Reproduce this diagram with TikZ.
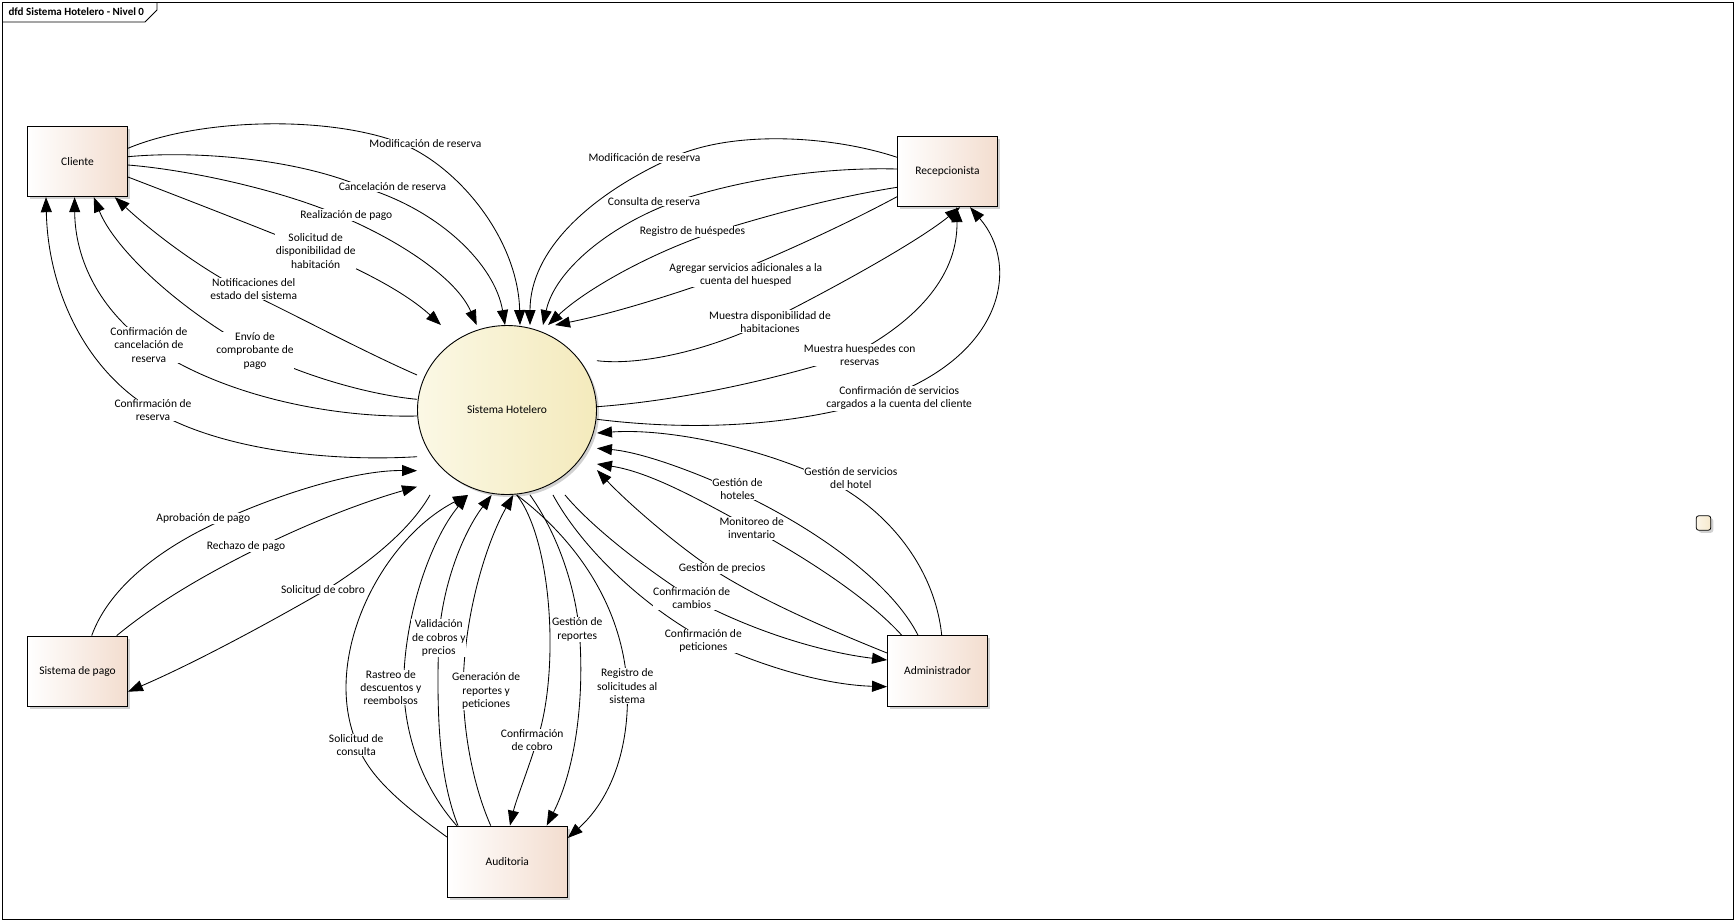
\documentclass[tikz,border=0pt]{standalone}
\usepackage{fontspec}
\setmainfont{Carlito}
\usetikzlibrary{arrows.meta,shapes.geometric,shadows,calc}
\definecolor{boxpeach}{RGB}{243,221,207}
\definecolor{procleft}{RGB}{251,248,229}
\definecolor{procright}{RGB}{244,234,188}
\definecolor{noteleft}{RGB}{252,246,232}
\definecolor{noteright}{RGB}{246,232,205}
\pgfdeclarelayer{bg}
\pgfsetlayers{bg,main}
\begin{document}
\begin{tikzpicture}[x=1pt,y=-1pt,
  every node/.style={font=\fontsize{11.5}{13.3}\selectfont},
  softshadow/.style={drop shadow={shadow xshift=2.5pt,shadow yshift=-2.5pt,opacity=0.18,fill=black}},
  entity/.style={draw=black,line width=0.9pt,minimum width=100pt,minimum height=70.7pt,
    inner sep=0pt,left color=white,right color=boxpeach,softshadow},
  process/.style={ellipse,draw=black,line width=0.9pt,minimum width=179pt,minimum height=169pt,
    inner sep=0pt,left color=procleft,right color=procright,softshadow},
  lbl/.style={fill=white,inner sep=0.6pt,align=center},
  flow/.style={line width=0.85pt,-{Triangle[length=15pt,width=11pt]}}
]
\useasboundingbox (0,0) rectangle (1736,922);

% diagram frame and its name tab
\draw[line width=0.9pt] (2.5,2.5) rectangle (1733.5,919.5);
\draw[line width=0.9pt] (2.5,22) -- (145,22) -- (157,10) -- (157,2.5);
\node[anchor=west,font=\fontsize{11}{13}\selectfont\bfseries] (ttl) at (5,12) {dfd Sistema Hotelero - Nivel 0};

% external entities and the central process
\node[entity] (cli) at (77.5,161.4) {Cliente};
\node[entity] (rec) at (947.5,171.4) {Recepcionista};
\node[entity] (pay) at (77.5,671.4) {Sistema de pago};
\node[entity,minimum width=120pt,minimum height=71.3pt] (aud) at (507.3,861.7) {Auditoria};
\node[entity] (adm) at (937.5,671) {Administrador};
\node[process] (sh) at (507,410) {Sistema Hotelero};
\node[draw=black,line width=0.8pt,rounded corners=2.5pt,minimum size=14.5pt,inner sep=0pt,
  left color=noteleft,right color=noteright,softshadow] (note) at (1703.5,523) {};

% flow labels
\node[lbl] (l1) at (425.4,143.8) {Modificación de reserva};
\node[lbl] (l2) at (392.5,187) {Cancelación de reserva};
\node[lbl] (l3) at (346.3,215) {Realización de pago};
\node[lbl] (l4) at (315.7,250.8) {Solicitud de\\disponibilidad de\\habitación};
\node[lbl] (l5) at (253.7,289) {Notificaciones del\\estado del sistema};
\node[lbl] (l6) at (255,350.8) {Envío de\\comprobante de\\pago};
\node[lbl] (l7) at (148.9,345) {Confirmación de\\cancelación de\\reserva};
\node[lbl] (l8) at (153,410) {Confirmación de\\reserva};

\node[lbl] (r1) at (644.5,158) {Modificación de reserva};
\node[lbl] (r2) at (654,201.3) {Consulta de reserva};
\node[lbl] (r3) at (692.5,231.7) {Registro de huéspedes};
\node[lbl] (r4) at (745.8,275) {Agregar servicios adicionales a la\\cuenta del huesped};
\node[lbl] (r5) at (770,321.7) {Muestra disponibilidad de\\habitaciones};
\node[lbl] (r6) at (859.7,355) {Muestra huespedes con\\reservas};
\node[lbl] (r7) at (899.2,398.3) {Confirmación de servicios\\cargados a la cuenta del cliente};

\node[lbl] (a1) at (850.8,478.3) {Gestión de servicios\\del hotel};
\node[lbl] (a2) at (737.5,489) {Gestión de\\hoteles};
\node[lbl] (a3) at (751.7,528.3) {Monitoreo de\\inventario};
\node[lbl] (a4) at (722,568.7) {Gestión de precios};
\node[lbl] (a5) at (691.7,598.3) {Confirmación de\\cambios};
\node[lbl] (a6) at (703.3,640.8) {Confirmación de\\peticiones};

\node[lbl] (p1) at (203.3,518.3) {Aprobación de pago};
\node[lbl] (p2) at (246,546) {Rechazo de pago};
\node[lbl] (p3) at (323,589.5) {Solicitud de cobro};

\node[lbl] (u1) at (356.2,745) {Solicitud de\\consulta};
\node[lbl] (u2) at (390.8,687.5) {Rastreo de\\descuentos y\\reembolsos};
\node[lbl] (u3) at (438.8,638) {Validación\\de cobros y\\precios};
\node[lbl] (u4) at (486.2,691) {Generación de\\reportes y\\peticiones};
\node[lbl] (u5) at (532.2,740) {Confirmación\\de cobro};
\node[lbl] (u6) at (577.2,629.5) {Gestión de\\reportes};
\node[lbl] (u7) at (627.2,686.2) {Registro de\\solicitudes al\\sistema};

\begin{pgfonlayer}{bg}
% Cliente <-> Sistema Hotelero
\draw[flow] ($(cli.east)+(0,-13.1)$) .. controls (200,118) and (330,115) .. ($(l1)+(-23,0)$)
  .. controls (460,168) and (518,240) .. ($(sh.north)+(13,0)$);
\draw[flow] ($(cli.east)+(0,-4.7)$) .. controls (200,150) and (300,160) .. ($(l2)+(-30,0)$)
  .. controls (440,210) and (495,265) .. ($(sh.north)+(-2,0)$);
\draw[flow] ($(cli.east)+(0,3.6)$) .. controls (190,170) and (280,190) .. ($(l3)+(-8,0)$)
  .. controls (390,236) and (455,275) .. ($(sh.north)+(-30.3,0)$);
\draw[flow] ($(cli.east)+(0,15.6)$) .. controls (180,197) and (260,228) .. (l4.center)
  .. controls (360,269) and (405,292) .. ($(sh.north)+(-66,0)$);
\draw[flow] ($(sh.west)+(0,-35)$) .. controls (360,350) and (290,312) .. ($(l5)+(-13,0)$)
  .. controls (195,265) and (150,230) .. ($(cli.south)+(37.3,0)$);
\draw[flow] ($(sh.west)+(0,-10.7)$) .. controls (370,395) and (300,375) .. (l6.center)
  .. controls (180,310) and (115,250) .. ($(cli.south)+(16.3,0)$);
\draw[flow] ($(sh.west)+(0,6)$) .. controls (330,418) and (220,395) .. (l7.center)
  .. controls (100,310) and (75,260) .. ($(cli.south)+(-2.9,0)$);
\draw[flow] ($(sh.west)+(0,46.7)$) .. controls (330,462) and (220,450) .. (l8.center)
  .. controls (85,370) and (48,290) .. ($(cli.south)+(-31.5,0)$);

% Recepcionista <-> Sistema Hotelero
\draw[flow] ($(rec.west)+(0,-14.1)$) .. controls (830,135) and (730,130) .. ($(r1)+(27,0)$)
  .. controls (590,195) and (530,250) .. ($(sh.north)+(23,0)$);
\draw[flow] ($(rec.west)+(0,-2.4)$) .. controls (820,167) and (740,180) .. ($(r2)+(22,0)$)
  .. controls (610,225) and (555,270) .. ($(sh.north)+(36,0)$);
\draw[flow] ($(rec.west)+(0,15.9)$) .. controls (830,198) and (770,215) .. ($(r3)+(22.5,0)$)
  .. controls (650,253) and (585,290) .. ($(sh.north)+(41,0)$);
\draw[flow] ($(rec.west)+(0,25.3)$) .. controls (850,222) and (790,250) .. ($(r4)+(-17,0)$)
  .. controls (680,292) and (620,312) .. ($(sh.north)+(48,0)$);
\draw[flow] ($(sh.east)+(0,-49.3)$) .. controls (640,366) and (710,350) .. ($(r5)+(-3,0)$)
  .. controls (840,285) and (920,240) .. ($(rec.south)+(12.5,0)$);
\draw[flow] ($(sh.east)+(0,-3.3)$) .. controls (690,400) and (790,375) .. ($(r6)+(-8,0)$)
  .. controls (910,325) and (958,280) .. ($(rec.south)+(9.2,0)$);
\draw[flow] ($(sh.east)+(0,9.3)$) .. controls (700,432) and (800,425) .. ($(r7)+(-16,0)$)
  .. controls (1005,355) and (1020,265) .. ($(rec.south)+(22.5,0)$);

% Administrador <-> Sistema Hotelero
\draw[flow] ($(adm.north)+(4.2,0)$) .. controls (935,570) and (890,510) .. ($(a1)+(-26,0)$)
  .. controls (760,448) and (670,428) .. ($(sh.east)+(0,23)$);
\draw[flow] ($(adm.north)+(-19.5,0)$) .. controls (890,580) and (810,525) .. ($(a2)+(-6,0)$)
  .. controls (690,470) and (640,452) .. ($(sh.east)+(0,38.3)$);
\draw[flow] ($(adm.north)+(-35.8,0)$) .. controls (870,600) and (810,560) .. (a3.center)
  .. controls (700,500) and (650,472) .. ($(sh.east)+(0,54)$);
\draw[flow] ($(adm.west)+(0,-18)$) .. controls (830,630) and (760,600) .. ($(a4)+(-10,0)$)
  .. controls (670,540) and (625,500) .. ($(sh.east)+(0,60)$);
\draw[flow] ($(sh.south)+(58,0)$) .. controls (590,525) and (640,565) .. (a5.center)
  .. controls (750,630) and (820,652) .. ($(adm.west)+(0,-11)$);
\draw[flow] ($(sh.south)+(46,0)$) .. controls (580,545) and (640,605) .. ($(a6)+(4,0)$)
  .. controls (770,670) and (830,685) .. ($(adm.west)+(0,15.7)$);

% Sistema de pago <-> Sistema Hotelero
\draw[flow] ($(pay.north)+(14.2,0)$) .. controls (110,585) and (165,545) .. ($(p1)+(23,0)$)
  .. controls (290,490) and (360,470) .. ($(sh.west)+(0,60.7)$);
\draw[flow] ($(pay.north)+(39.2,0)$) .. controls (160,600) and (210,572) .. ($(p2)+(16.5,0)$)
  .. controls (320,518) and (370,500) .. ($(sh.west)+(0,76.7)$);
\draw[flow] ($(sh.south)+(-77,0)$) .. controls (410,530) and (370,562) .. ($(p3)+(3.7,0)$)
  .. controls (260,628) and (190,665) .. ($(pay.east)+(0,20.3)$);

% Auditoria <-> Sistema Hotelero
\draw[flow] ($(aud.west)+(0,-24.7)$) .. controls (410,810) and (370,780) .. ($(u1)+(1.3,0)$)
  .. controls (320,660) and (380,540) .. ($(sh.south)+(-39,0)$);
\draw[flow] ($(aud.north)+(-50.6,0)$) .. controls (425,790) and (405,740) .. ($(u2)+(13,0)$)
  .. controls (403,620) and (430,540) .. ($(sh.south)+(-39,0)$);
\draw[flow] ($(aud.north)+(-49.3,0)$) .. controls (440,780) and (436,720) .. (u3.center)
  .. controls (443,580) and (465,530) .. ($(sh.south)+(-15.3,0)$);
\draw[flow] ($(aud.north)+(-16.6,0)$) .. controls (475,790) and (464,740) .. ($(u4)+(-23,0)$)
  .. controls (463,620) and (485,545) .. ($(sh.south)+(6.3,0)$);
\draw[flow] ($(sh.south)+(9.7,0)$) .. controls (552,540) and (560,670) .. ($(u5)+(5,0)$)
  .. controls (528,770) and (516,800) .. ($(aud.north)+(2.7,0)$);
\draw[flow] ($(sh.south)+(23,0)$) .. controls (555,530) and (574,580) .. ($(u6)+(2,0)$)
  .. controls (585,700) and (575,770) .. ($(aud.north)+(39.4,0)$);
\draw[flow] ($(sh.south)+(9.7,0)$) .. controls (570,535) and (622,600) .. (u7.center)
  .. controls (630,750) and (610,800) .. ($(aud.east)+(0,-23.7)$);
\end{pgfonlayer}
\end{tikzpicture}
\end{document}
